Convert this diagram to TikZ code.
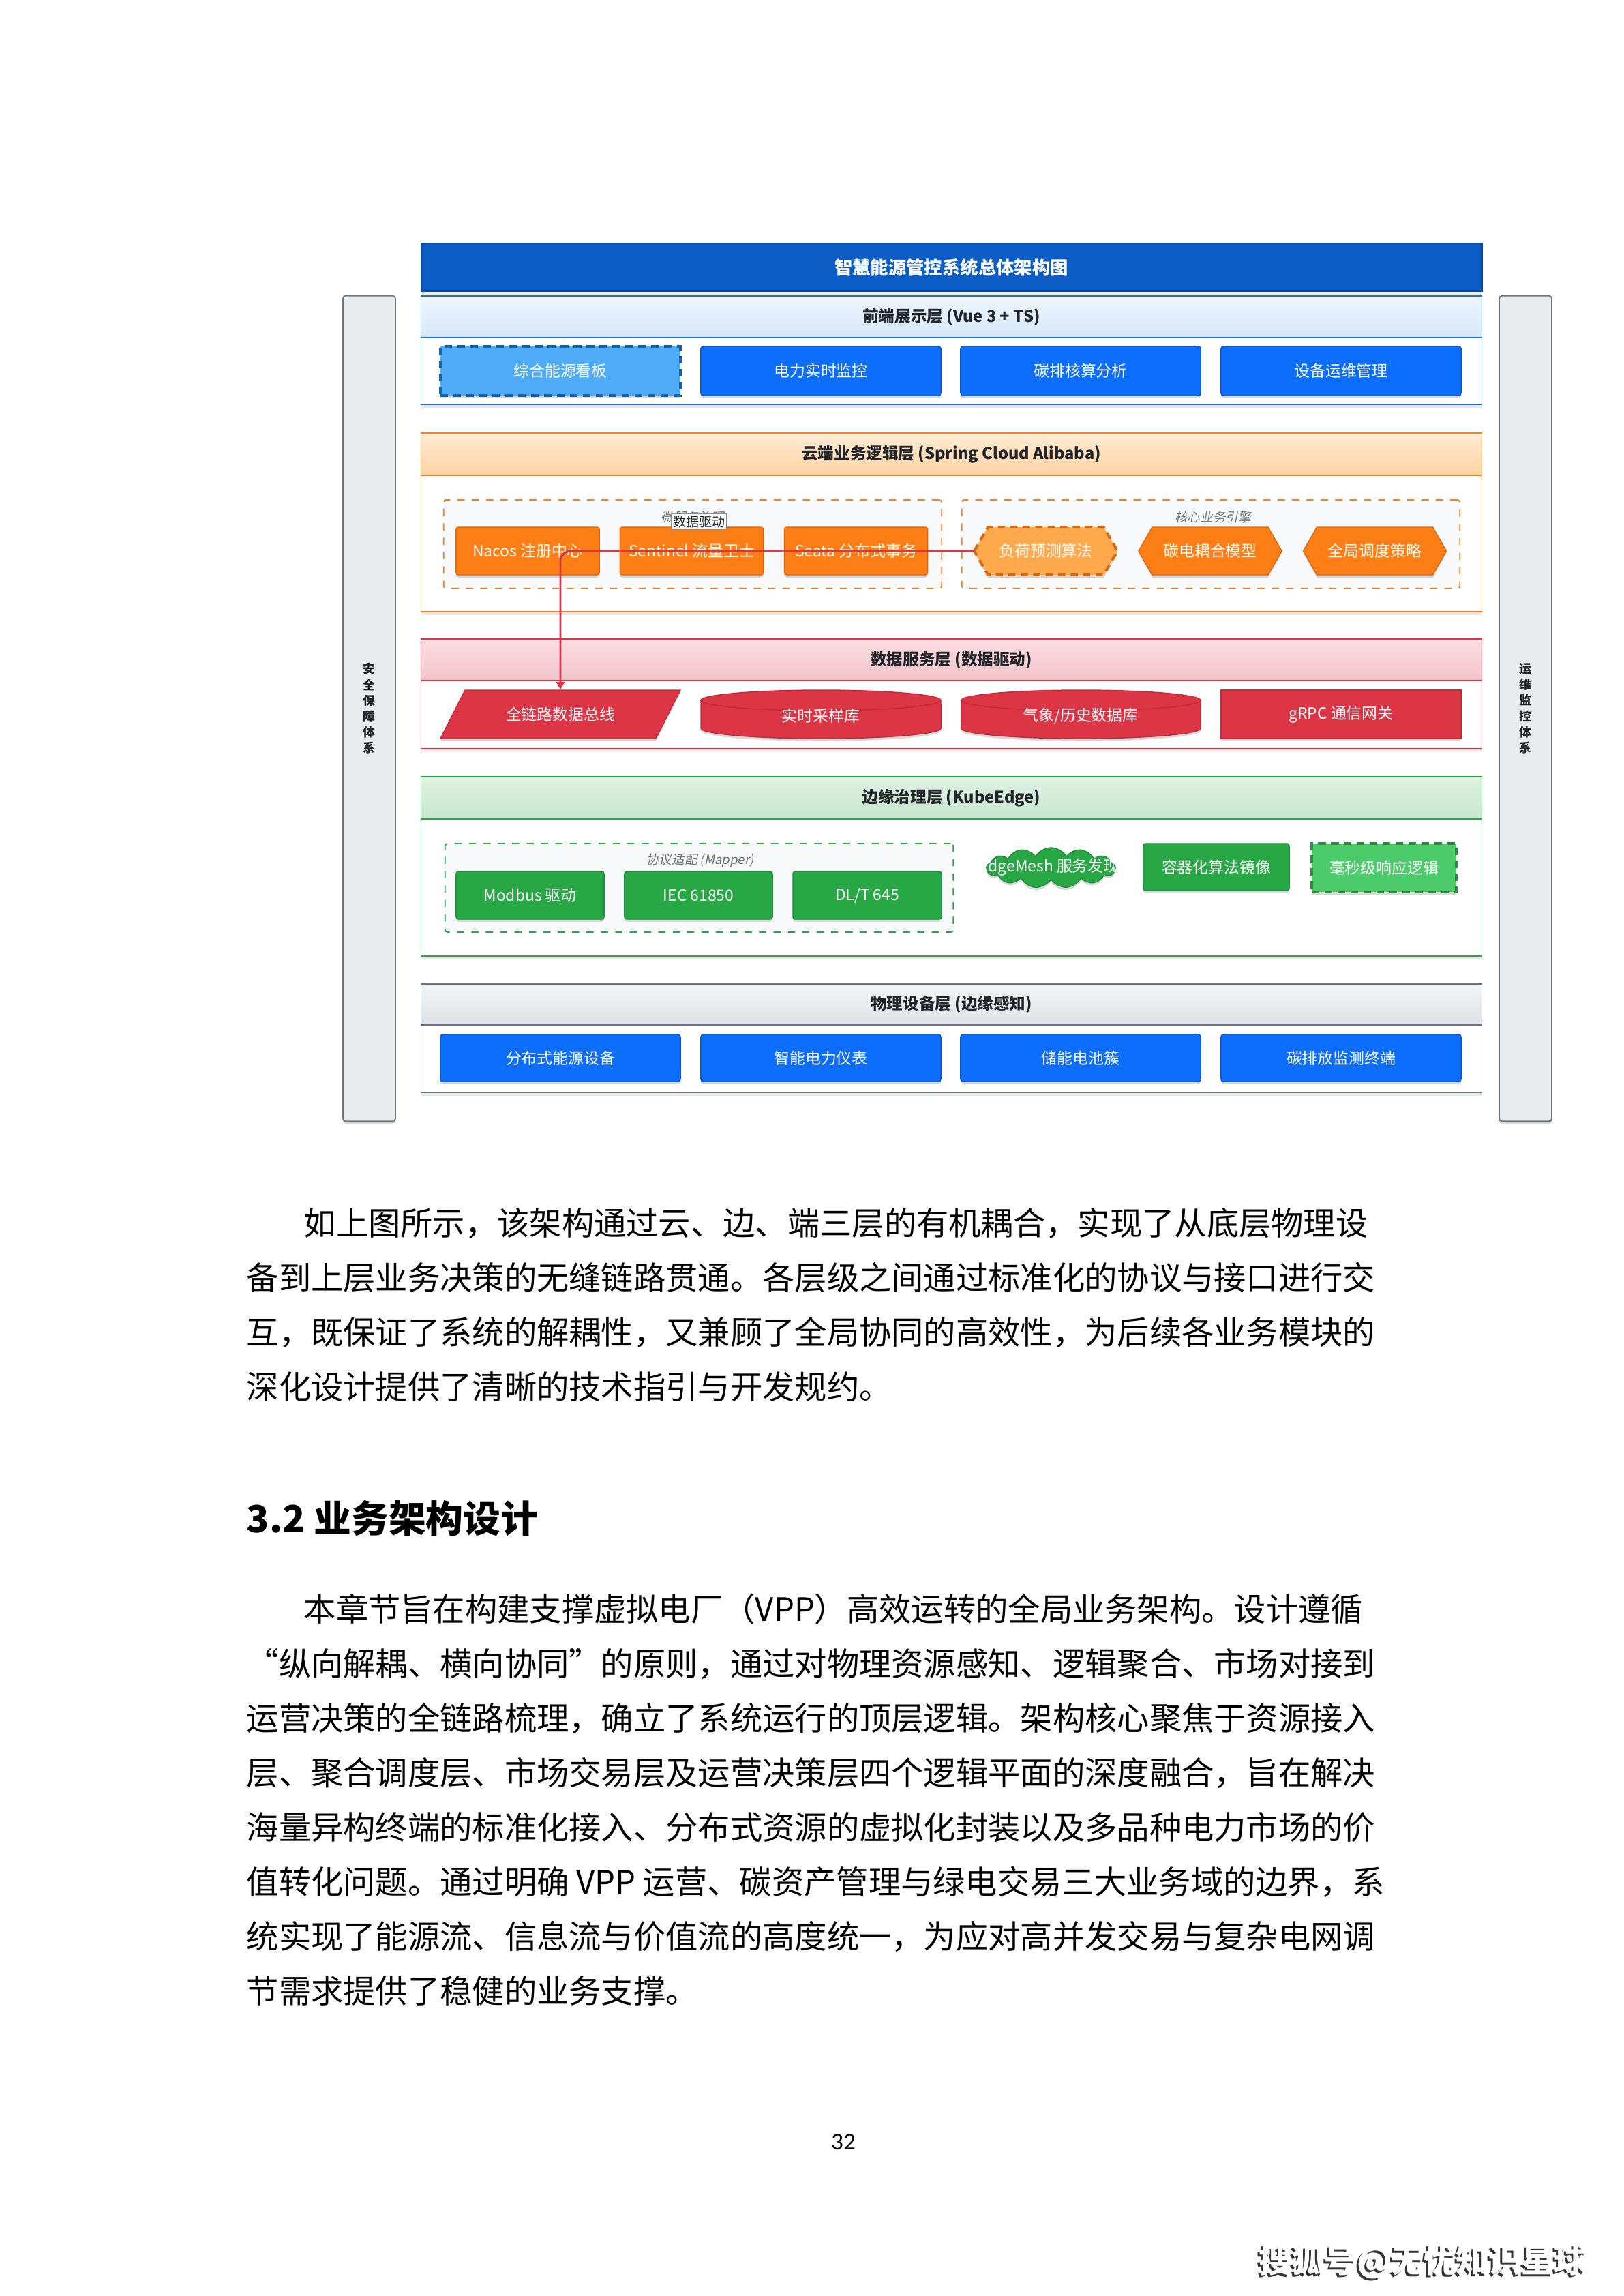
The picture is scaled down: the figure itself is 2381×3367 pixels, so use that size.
\documentclass[tikz,border=0pt]{standalone}
\usepackage{fontspec}
\setmainfont{Noto Sans CJK SC}[AutoFakeSlant=0.2]
\newfontfamily\numfont{Carlito}
\usetikzlibrary{shapes.symbols,shadows,arrows.meta}
\definecolor{titleblue}{HTML}{0B5CC4}
\definecolor{titleedge}{HTML}{084B9E}
\definecolor{fedge}{HTML}{1C6FD6}
\definecolor{fhtop}{HTML}{EEF5FF}
\definecolor{fhbot}{HTML}{D6E7FB}
\definecolor{btnblue}{HTML}{0D6EFD}
\definecolor{btnedge}{HTML}{0A58CA}
\definecolor{lblue}{HTML}{4DABF7}
\definecolor{lblueedge}{HTML}{1864AB}
\definecolor{oedge}{HTML}{F0802A}
\definecolor{ohtop}{HTML}{FFEBD4}
\definecolor{ohbot}{HTML}{FDD3A2}
\definecolor{ofill}{HTML}{FD7E14}
\definecolor{ofedge}{HTML}{E0650A}
\definecolor{olight}{HTML}{FFA94D}
\definecolor{redc}{HTML}{DC3545}
\definecolor{rededge}{HTML}{C42A3A}
\definecolor{rhtop}{HTML}{FBDDE1}
\definecolor{rhbot}{HTML}{F3C4CB}
\definecolor{greenc}{HTML}{28A745}
\definecolor{gedge}{HTML}{1E8E3A}
\definecolor{ghtop}{HTML}{E0F2E4}
\definecolor{ghbot}{HTML}{C6E6CE}
\definecolor{glight}{HTML}{4CCB6A}
\definecolor{gdark}{HTML}{2B8A3E}
\definecolor{grayedge}{HTML}{6C757D}
\definecolor{phtop}{HTML}{F3F4F6}
\definecolor{phbot}{HTML}{DEE2E6}
\definecolor{sidefill}{HTML}{E9ECEF}
\definecolor{grpfill}{HTML}{F8F9FA}
\definecolor{hdrtext}{HTML}{212529}
\begin{document}
\begin{tikzpicture}[x=0.01cm,y=0.01cm,
  shd/.style={drop shadow={opacity=0.3,shadow xshift=0pt,shadow yshift=-1.1pt}},
  lshd/.style={drop shadow={opacity=0.18,shadow xshift=0pt,shadow yshift=-1.5pt}},
  ttl/.style={font=\bfseries\fontsize{7.5}{9}\selectfont,text=white},
  htxt/.style={font=\bfseries\fontsize{6.7}{8}\selectfont,text=hdrtext},
  ntxt/.style={font=\fontsize{6.5}{8}\selectfont,text=white},
  gtxt/.style={font=\itshape\fontsize{5.3}{6.5}\selectfont,text=black!55},
  sidetxt/.style={font=\bfseries\fontsize{5.1}{6.6}\selectfont,text=hdrtext,align=center},
  body/.style={font=\fontsize{13.45}{16}\selectfont,anchor=base west,inner sep=0pt},
  frame/.style={draw=#1,line width=0.5pt,fill=white,inner sep=0pt,outer sep=0pt,minimum width=15.55cm,lshd},
  hdr/.style={draw=#1,line width=0.5pt,inner sep=0pt,outer sep=0pt,minimum width=15.55cm,htxt},
  btn/.style={fill=btnblue,draw=btnedge,line width=0.4pt,rounded corners=1pt,minimum width=3.52cm,minimum height=0.72cm,inner sep=0pt,ntxt,shd},
  obox/.style={fill=ofill,draw=ofedge,line width=0.4pt,rounded corners=1pt,minimum width=2.10cm,minimum height=0.70cm,inner sep=0pt,ntxt,shd},
  gbox/.style={fill=greenc,draw=gedge,line width=0.4pt,rounded corners=1pt,minimum height=0.70cm,inner sep=0pt,ntxt,shd},
  rshape/.style={fill=redc,draw=rededge,line width=0.4pt,shd},
  hexs/.style={fill=ofill,draw=ofedge,line width=0.4pt,shd},
  hexd/.style={fill=olight,draw=ofedge,line width=1.1pt,dash pattern=on 3pt off 2.2pt,shd},
  grp/.style={draw=#1,dashed,line width=0.5pt,fill=grpfill,rounded corners=1pt,inner sep=0pt},
  side/.style={fill=sidefill,draw=grayedge,line width=0.5pt,rounded corners=1.2pt,minimum width=0.77cm,minimum height=12.10cm,inner sep=0pt,shd},
  flow/.style={draw=redc,line width=0.8pt,rounded corners=0.15cm,-{Triangle[length=3.2pt,width=3.4pt]}}
]
\useasboundingbox (0,0) rectangle (2381,-3367);
\fill[white] (0,0) rectangle (2381,-3367);

% side bars
\node[side] (secbar) at (541.5,-1039) {};
\node[sidetxt] (sectxt) at (secbar) {安\\全\\保\\障\\体\\系};
\node[side] (opsbar) at (2237.5,-1039) {};
\node[sidetxt] (opstxt) at (opsbar) {运\\维\\监\\控\\体\\系};

% title
\node[fill=titleblue,draw=titleedge,line width=0.6pt,minimum width=15.55cm,minimum height=0.70cm,inner sep=0pt,ttl,lshd] (title) at (1395.5,-392) {智慧能源管控系统总体架构图};

% front layer
\node[frame=fedge,minimum height=1.59cm] (lfront) at (1395.5,-513.5) {};
\node[hdr=fedge,top color=fhtop,bottom color=fhbot,minimum height=0.61cm] (hfront) at (1395.5,-464.5) {前端展示层 (Vue 3 + TS)};
\node[btn,fill=lblue,draw=lblueedge,line width=1.1pt,dash pattern=on 3.2pt off 2.2pt,rounded corners=0pt] (f1) at (822,-544) {综合能源看板};
\node[btn] (f2) at (1204,-544) {电力实时监控};
\node[btn] (f3) at (1585,-544) {碳排核算分析};
\node[btn] (f4) at (1967,-544) {设备运维管理};

% cloud layer
\node[frame=oedge,minimum height=2.62cm] (lcloud) at (1395.5,-766) {};
\node[hdr=oedge,top color=ohtop,bottom color=ohbot,minimum height=0.62cm] (hcloud) at (1395.5,-666) {云端业务逻辑层 (Spring Cloud Alibaba)};
\node[grp=oedge,minimum width=7.30cm,minimum height=1.30cm] (gms) at (1016,-798) {};
\node[grp=oedge,minimum width=7.30cm,minimum height=1.30cm] (gcore) at (1776,-798) {};
\node[gtxt] (gmsl) at (1016,-758) {微服务治理};
\node[gtxt] (gcorel) at (1779,-758) {核心业务引擎};
\node[obox] (nacos) at (774,-808) {Nacos 注册中心};
\node[obox] (sentinel) at (1014.5,-808) {Sentinel 流量卫士};
\node[obox] (seata) at (1255.5,-808) {Seata 分布式事务};
\foreach \cx/\nm/\txt/\st in {1534/h1/负荷预测算法/hexd, 1775/h2/碳电耦合模型/hexs, 2016.5/h3/全局调度策略/hexs}{
  \path[\st] (\cx-105,-808) -- (\cx-85,-773) -- (\cx+85,-773) -- (\cx+105,-808) -- (\cx+85,-843) -- (\cx-85,-843) -- cycle;
  \node[ntxt,minimum width=2.10cm,minimum height=0.70cm,inner sep=0pt] (\nm) at (\cx,-808) {\txt};
}

% data layer
\node[frame=redc,minimum height=1.61cm] (ldata) at (1395.5,-1017.5) {};
\node[hdr=redc,top color=rhtop,bottom color=rhbot,minimum height=0.61cm] (hdata) at (1395.5,-967.5) {数据服务层 (数据驱动)};
\path[rshape] (646,-1083) -- (682,-1012) -- (998,-1012) -- (962,-1083) -- cycle;
\node[ntxt,minimum width=3.16cm,minimum height=0.71cm,inner sep=0pt] (bus) at (822,-1047.5) {全链路数据总线};
\path[rshape] (1028,-1027) -- (1028,-1068) arc[start angle=180,end angle=360,x radius=1.76cm,y radius=0.15cm] -- (1380,-1027) arc[start angle=0,end angle=180,x radius=1.76cm,y radius=0.15cm] -- cycle;
\draw[rededge,line width=0.4pt] (1028,-1027) arc[start angle=180,end angle=360,x radius=1.76cm,y radius=0.15cm];
\node[ntxt,inner sep=0pt] (cyl1) at (1204,-1050) {实时采样库};
\path[rshape] (1410,-1027) -- (1410,-1068) arc[start angle=180,end angle=360,x radius=1.755cm,y radius=0.15cm] -- (1761,-1027) arc[start angle=0,end angle=180,x radius=1.755cm,y radius=0.15cm] -- cycle;
\draw[rededge,line width=0.4pt] (1410,-1027) arc[start angle=180,end angle=360,x radius=1.755cm,y radius=0.15cm];
\node[ntxt,inner sep=0pt] (cyl2) at (1585,-1050) {气象/历史数据库};
\node[fill=redc,draw=rededge,line width=0.4pt,minimum width=3.52cm,minimum height=0.71cm,inner sep=0pt,ntxt,shd] (grpc) at (1967,-1047.5) {gRPC 通信网关};

% edge layer
\node[frame=greenc,minimum height=2.63cm] (ledge) at (1395.5,-1270.5) {};
\node[hdr=greenc,top color=ghtop,bottom color=ghbot,minimum height=0.62cm] (hedge) at (1395.5,-1170) {边缘治理层 (KubeEdge)};
\node[grp=greenc,minimum width=7.45cm,minimum height=1.30cm] (gmap) at (1025.5,-1302) {};
\node[gtxt] (gmapl) at (1027,-1262) {协议适配 (Mapper)};
\node[gbox,minimum width=2.17cm] (modbus) at (777.5,-1313) {Modbus 驱动};
\node[gbox,minimum width=2.17cm] (iec) at (1024.5,-1313) {IEC 61850};
\node[gbox,minimum width=2.18cm] (dlt) at (1272,-1313) {DL/T 645};
\node[cloud,cloud puffs=13,cloud puff arc=120,aspect=3.4,fill=greenc,draw=gedge,line width=0.4pt,minimum width=1.89cm,minimum height=0.59cm,inner sep=0pt,shd] (emcloud) at (1541.5,-1272.5) {};
\node[ntxt,inner sep=0pt] (emtxt) at (1539,-1272) {EdgeMesh 服务发现};
\node[gbox,minimum width=2.14cm,minimum height=0.69cm] (cont) at (1784,-1271.5) {容器化算法镜像};
\node[gbox,fill=glight,draw=gdark,line width=1.1pt,dash pattern=on 3.2pt off 2.2pt,rounded corners=0pt,minimum width=2.12cm,minimum height=0.71cm] (ms) at (2030,-1272.5) {毫秒级响应逻辑};

% physical layer
\node[frame=grayedge,minimum height=1.59cm] (lphys) at (1395.5,-1522.5) {};
\node[hdr=grayedge,top color=phtop,bottom color=phbot,minimum height=0.60cm] (hphys) at (1395.5,-1473) {物理设备层 (边缘感知)};
\node[btn,minimum height=0.69cm] (p1) at (822,-1551.5) {分布式能源设备};
\node[btn,minimum height=0.69cm] (p2) at (1204,-1551.5) {智能电力仪表};
\node[btn,minimum height=0.69cm] (p3) at (1585,-1551.5) {储能电池簇};
\node[btn,minimum height=0.69cm] (p4) at (1967,-1551.5) {碳排放监测终端};

% connector
\draw[flow] (h1.west) -| (bus.north);
\node[fill=white,draw=black!45,line width=0.3pt,inner sep=0.8pt,font=\fontsize{5.4}{6.5}\selectfont,text=hdrtext] (flowlbl) at (1025,-765) {数据驱动};

% page text
\node[body] (a1) at (445,-1811) {如上图所示，该架构通过云、边、端三层的有机耦合，实现了从底层物理设};
\node[body] (a2) at (361,-1891) {备到上层业务决策的无缝链路贯通。各层级之间通过标准化的协议与接口进行交};
\node[body] (a3) at (361,-1971) {互，既保证了系统的解耦性，又兼顾了全局协同的高效性，为后续各业务模块的};
\node[body] (a4) at (361,-2051) {深化设计提供了清晰的技术指引与开发规约。};

\node[anchor=base west,inner sep=0pt,font=\bfseries\fontsize{15.6}{18}\selectfont] (head) at (361,-2247) {3.2 业务架构设计};

\node[body] (b1) at (445,-2377) {本章节旨在构建支撑虚拟电厂（VPP）高效运转的全局业务架构。设计遵循};
\node[body] (b2) at (361,-2457) {“纵向解耦、横向协同”的原则，通过对物理资源感知、逻辑聚合、市场对接到};
\node[body] (b3) at (361,-2537) {运营决策的全链路梳理，确立了系统运行的顶层逻辑。架构核心聚焦于资源接入};
\node[body] (b4) at (361,-2617) {层、聚合调度层、市场交易层及运营决策层四个逻辑平面的深度融合，旨在解决};
\node[body] (b5) at (361,-2697) {海量异构终端的标准化接入、分布式资源的虚拟化封装以及多品种电力市场的价};
\node[body] (b6) at (361,-2777) {值转化问题。通过明确 VPP 运营、碳资产管理与绿电交易三大业务域的边界，系};
\node[body] (b7) at (361,-2857) {统实现了能源流、信息流与价值流的高度统一，为应对高并发交易与复杂电网调};
\node[body] (b8) at (361,-2937) {节需求提供了稳健的业务支撑。};

\node[font=\numfont\fontsize{10}{12}\selectfont] (pnum) at (1237,-3141) {32};

\node[font=\bfseries\fontsize{13.6}{16}\selectfont,text=black!80] (wmshadow) at (2084,-3320) {搜狐号@无忧知识星球};
\node[font=\bfseries\fontsize{13.6}{16}\selectfont,text=white] (wm) at (2087,-3317) {搜狐号@无忧知识星球};
\end{tikzpicture}
\end{document}
